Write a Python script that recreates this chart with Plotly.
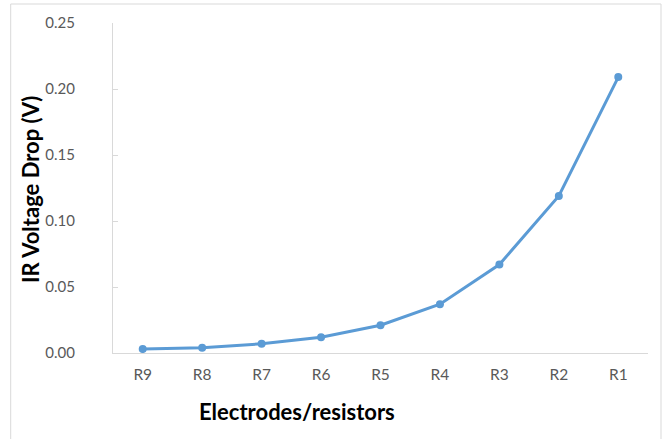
import plotly.graph_objects as go

# Electrode / resistor positions and measured IR voltage drop (V)
electrodes = ["R9", "R8", "R7", "R6", "R5", "R4", "R3", "R2", "R1"]
ir_drop = [0.003, 0.004, 0.007, 0.012, 0.021, 0.037, 0.067, 0.119, 0.209]
y_ticks = [0.00, 0.05, 0.10, 0.15, 0.20, 0.25]

W, H = 670, 439
L, R, T, B = 113, 22, 23, 86
pw, ph = W - L - R, H - T - B

def px_x(x):
    return (x - L) / pw

def px_y(y):
    return (H - B - y) / ph

blue = "#5B9BD5"
grid_grey = "#D9D9D9"
text_grey = "#595959"
font = "Lato, 'Open Sans', sans-serif"

fig = go.Figure(
    go.Scatter(
        x=electrodes,
        y=ir_drop,
        mode="lines+markers",
        line=dict(color=blue, width=3),
        marker=dict(color=blue, size=8),
        showlegend=False,
    )
)

fig.update_layout(
    width=W,
    height=H,
    margin=dict(l=L, r=R, t=T, b=B, pad=0),
    paper_bgcolor="white",
    plot_bgcolor="white",
    font=dict(family=font, color=text_grey, size=15),
)

fig.update_xaxes(
    type="category",
    range=[-0.5, len(electrodes) - 0.5],
    showgrid=False,
    showline=True,
    linecolor=grid_grey,
    linewidth=1,
    ticks="",
    tickfont=dict(family=font, size=15.5, color=text_grey),
    ticklabelstandoff=7,
    zeroline=False,
)

fig.update_yaxes(
    range=[0, 0.25],
    tickvals=y_ticks,
    tickformat=".2f",
    showgrid=False,
    showline=True,
    linecolor=grid_grey,
    linewidth=1,
    ticks="inside",
    ticklen=5,
    tickcolor=grid_grey,
    tickfont=dict(family=font, size=15, color=text_grey),
    ticklabelstandoff=34,
    zeroline=False,
)

# Axis titles
fig.add_annotation(
    text="<b>IR Voltage Drop (V)</b>",
    xref="paper", yref="paper",
    x=px_x(30), y=px_y(190),
    textangle=-90,
    showarrow=False,
    font=dict(family=font, size=22, color="black"),
    xanchor="center", yanchor="middle",
)
fig.add_annotation(
    text="<b>Electrodes/resistors</b>",
    xref="paper", yref="paper",
    x=px_x(297), y=px_y(411),
    showarrow=False,
    font=dict(family=font, size=22, color="black"),
    xanchor="center", yanchor="middle",
)

# Chart frame
fig.add_shape(
    type="rect",
    xref="paper", yref="paper",
    x0=px_x(10.7), x1=px_x(661),
    y0=px_y(445), y1=px_y(4),
    line=dict(color=grid_grey, width=1),
    layer="below",
)

fig.write_html("out.html")
